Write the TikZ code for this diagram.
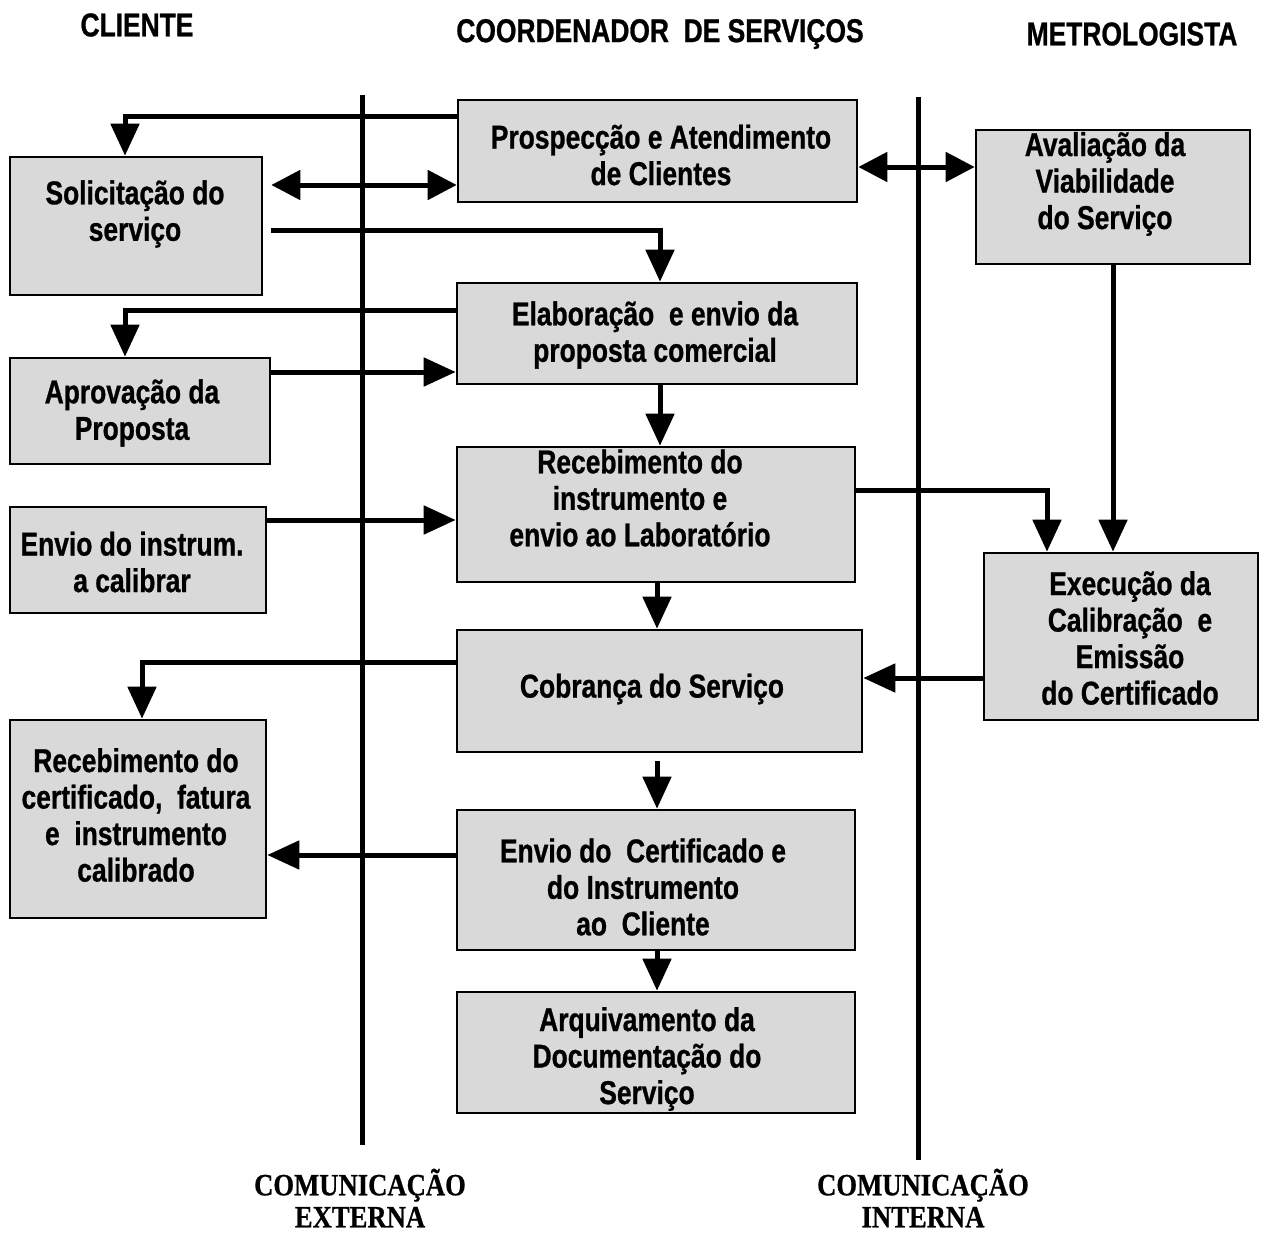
\documentclass[tikz,border=0pt]{standalone}
\usepackage{fontspec}
\setmainfont{Liberation Sans}[FakeStretch=0.8, BoldFeatures={FakeBold=0.8}]
\newfontfamily\labelserif{Liberation Serif}[FakeStretch=0.86, BoldFeatures={FakeBold=0.6}]
\usetikzlibrary{arrows.meta}
\begin{document}
\begin{tikzpicture}[x=1pt,y=-1pt,
  box/.style={draw, line width=2.6pt, fill=black!15, inner sep=0pt},
  txt/.style={align=center, font=\bfseries\fontsize{33}{36.5}\selectfont, inner sep=0pt},
  head/.style={font=\bfseries\fontsize{33}{36}\selectfont, inner sep=0pt},
  foot/.style={align=center, font=\labelserif\bfseries\fontsize{31}{32}\selectfont, inner sep=0pt},
  lane/.style={line width=5pt},
  arr/.style={line width=5pt, -{Triangle[width=28pt,length=32pt]}},
  arrr/.style={line width=5pt, {Triangle[width=29pt,length=29pt]}-{Triangle[width=29pt,length=29pt]}},
]
\useasboundingbox (0,0) rectangle (1268,1236);

% column headings
\node[head] (hcli) at (137,25) {CLIENTE};
\node[head] (hcoo) at (660,34) {COORDENADOR\ \ DE SERVIÇOS};
\node[head] (hmet) at (1132,34) {METROLOGISTA};

% communication lanes
\coordinate (extT) at (362,95);
\coordinate (extB) at (362,1145);
\coordinate (intT) at (918,97);
\coordinate (intB) at (918,1160);
\draw[lane] (extT) -- (extB);
\draw[lane] (intT) -- (intB);
\node[foot] (fext) at (360,1198) {COMUNICAÇÃO\\EXTERNA};
\node[foot] (fint) at (923,1198) {COMUNICAÇÃO\\INTERNA};

% client column
\node[box, minimum width=252pt, minimum height=138pt] (sol) at (136,226) {};
\node[txt] (solT) at (135,214) {Solicitação do\\serviço};
\node[box, minimum width=260pt, minimum height=106pt] (apr) at (140,411) {};
\node[txt] (aprT) at (132,413) {Aprovação da\\Proposta};
\node[box, minimum width=256pt, minimum height=106pt] (env) at (138,560) {};
\node[txt] (envT) at (132,562) {Envio do instrum.\\a calibrar};
\node[box, minimum width=256pt, minimum height=198pt] (rec) at (138,819) {};
\node[txt] (recT) at (136,815) {Recebimento do\\certificado,\ \ fatura\\e\ \ instrumento\\calibrado};

% coordinator column
\node[box, minimum width=399pt, minimum height=102pt] (pro) at (657.5,151) {};
\node[txt] (proT) at (661,155) {Prospecção e Atendimento\\de Clientes};
\node[box, minimum width=400pt, minimum height=101pt] (ela) at (657,333.5) {};
\node[txt] (elaT) at (655,335) {Elaboração\ \ e envio da\\proposta comercial};
\node[box, minimum width=398pt, minimum height=135pt] (rin) at (656,514.5) {};
\node[txt] (rinT) at (640,498) {Recebimento do\\instrumento e\\envio ao Laboratório};
\node[box, minimum width=405pt, minimum height=122pt] (cob) at (659.5,691) {};
\node[txt] (cobT) at (652,689) {Cobrança do Serviço};
\node[box, minimum width=398pt, minimum height=140pt] (ecl) at (656,880) {};
\node[txt] (eclT) at (643,887) {Envio do\ \ Certificado e\\do Instrumento\\ao\ \ Cliente};
\node[box, minimum width=398pt, minimum height=121pt] (arq) at (656,1052.5) {};
\node[txt] (arqT) at (647,1059) {Arquivamento da\\Documentação do\\Serviço};

% metrologist column
\node[box, minimum width=274pt, minimum height=134pt] (ava) at (1113,197) {};
\node[txt] (avaT) at (1105,184) {Avaliação da\\Viabilidade\\do Serviço};
\node[box, minimum width=274pt, minimum height=167pt] (exe) at (1121,636.5) {};
\node[txt] (exeT) at (1130,638) {Execução da\\Calibração\ \ e\\Emissão\\do Certificado};

% connectors
\draw[arr] ([yshift=34pt]pro.west) -| ([xshift=-11pt]sol.north);
\draw[arrr] ([yshift=41pt,xshift=8pt]sol.east) -- ([yshift=41pt]sol.east -| pro.west);
\draw[arr] ([yshift=-4pt,xshift=8pt]sol.east) -| ([xshift=3pt]ela.north);
\draw[arrr] ([yshift=-16pt]pro.east) -- ([yshift=-16pt]pro.east -| ava.west);
\draw[arr] ([yshift=23.5pt]ela.west) -| ([xshift=-15pt]apr.north);
\draw[arr] ([yshift=39pt]apr.east) -- ([yshift=39pt]apr.east -| ela.west);
\draw[arr] ([xshift=3pt]ela.south) -- ([xshift=3pt]ela.south |- rin.north);
\draw[arr] ([yshift=40pt]env.east) -- ([yshift=40pt]env.east -| rin.west);
\draw[arr] ([yshift=24.5pt]rin.east) -| ([xshift=-74pt]exe.north);
\draw[arr] (ava.south) -- (ava.south |- exe.north);
\draw[arr] ([xshift=1pt]rin.south) -- ([xshift=1pt]rin.south |- cob.north);
\draw[arr] ([yshift=-41.5pt]exe.west) -- ([yshift=-41.5pt]exe.west -| cob.east);
\draw[arr] ([yshift=29pt]cob.west) -| ([xshift=4pt]rec.north);
\draw[arr] ([xshift=-2.5pt,yshift=-8pt]cob.south) -- ([xshift=-2.5pt]cob.south |- ecl.north);
\draw[arr] ([yshift=25pt]ecl.west) -- ([yshift=25pt]ecl.west -| rec.east);
\draw[arr] ([xshift=1pt]ecl.south) -- ([xshift=1pt]ecl.south |- arq.north);
\end{tikzpicture}
\end{document}
